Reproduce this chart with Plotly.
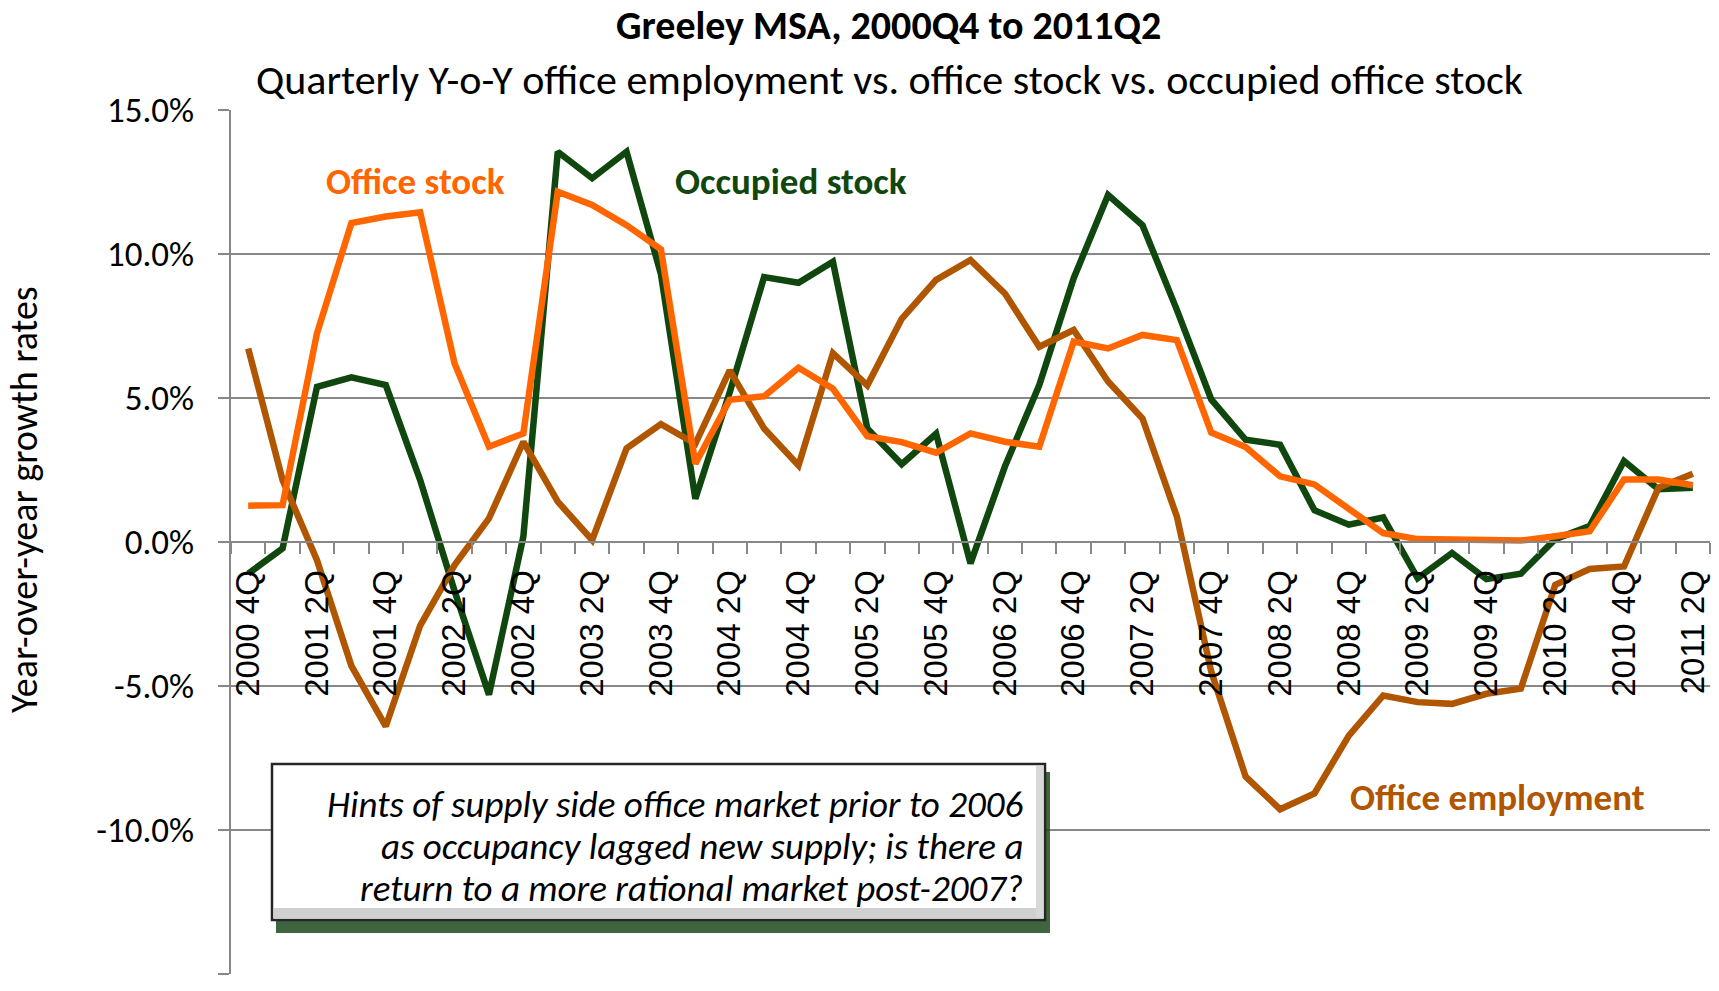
import plotly.graph_objects as go

# ---------------- data ----------------
quarters = ["2000Q4"] + [f"{y}Q{q}" for y in range(2001, 2011) for q in range(1, 5)] + ["2011Q1", "2011Q2"]
quarter_labels = [f"{q[:4]} {q[-1]}Q" for q in quarters]

office_stock = [1.26, 1.28, 7.25, 11.07, 11.3, 11.45, 6.2, 3.31, 3.77, 12.16,
                11.7, 11.0, 10.16, 2.72, 4.94, 5.06, 6.05, 5.32, 3.67, 3.47,
                3.1, 3.77, 3.48, 3.31, 6.96, 6.72, 7.19, 7.01, 3.8, 3.3,
                2.28, 2.0, 1.15, 0.31, 0.1, 0.1, 0.05, 0.05, 0.2, 0.37,
                2.17, 2.17, 1.97]

occupied_stock = [-1.1, -0.22, 5.39, 5.72, 5.45, 2.15, -1.7, -5.3, 0.19, 13.55,
                  12.63, 13.55, 9.3, 1.5, 5.2, 9.2, 9.0, 9.73, 3.94, 2.7,
                  3.76, -0.74, 2.62, 5.45, 9.16, 12.05, 11.0, 8.06, 4.95, 3.55,
                  3.38, 1.1, 0.6, 0.85, -1.26, -0.38, -1.29, -1.1, 0.1, 0.55,
                  2.81, 1.83, 1.88]

office_employment = [6.72, 2.15, -0.63, -4.3, -6.4, -2.9, -0.8, 0.82, 3.48, 1.4,
                     0.07, 3.25, 4.09, 3.41, 5.96, 3.94, 2.66, 6.56, 5.44, 7.75,
                     9.1, 9.79, 8.63, 6.78, 7.36, 5.57, 4.29, 0.88, -4.5, -8.15,
                     -9.28, -8.73, -6.72, -5.33, -5.56, -5.62, -5.27, -5.09, -1.49, -0.94,
                     -0.85, 1.88, 2.37]

y_ticks = [-15, -10, -5, 0, 5, 10, 15]
y_ticktext = [f"{v:.1f}%" for v in y_ticks]

title_text = "Greeley MSA, 2000Q4 to 2011Q2"
subtitle_text = "Quarterly Y-o-Y office employment vs. office stock vs. occupied office stock"
y_title = "Year-over-year growth rates"
note_lines = ["Hints of supply side office market prior to 2006",
              "as occupancy lagged new supply; is there a",
              "return to a more rational market post-2007?"]

# ---------------- style ----------------
ORANGE = "#FF6600"
GREEN = "#0F470F"
BROWN = "#B05500"
GRID = "#878787"
FONT = "Carlito, Lato, sans-serif"
W, H = 1719, 991
L, R, T, B = 231, 9, 110, 17
PW, PH = W - L - R, H - T - B


def px(xp):
    return (xp - L) / PW


def py(yp):
    return (H - B - yp) / PH


fig = go.Figure()
fig.add_trace(go.Scatter(x=quarters, y=occupied_stock, mode="lines", name="Occupied stock",
                         line=dict(color=GREEN, width=6.5)))
fig.add_trace(go.Scatter(x=quarters, y=office_employment, mode="lines", name="Office employment",
                         line=dict(color=BROWN, width=6.5)))
fig.add_trace(go.Scatter(x=quarters, y=office_stock, mode="lines", name="Office stock",
                         line=dict(color=ORANGE, width=6.5)))

ticktext = [lab if i % 2 == 0 else "" for i, lab in enumerate(quarter_labels)]

fig.update_layout(
    width=W, height=H,
    margin=dict(l=L, r=R, t=T, b=B),
    paper_bgcolor="white", plot_bgcolor="white",
    showlegend=False,
    xaxis=dict(
        type="category", anchor="free", position=0.5,
        range=[-0.5, len(quarters) - 0.5],
        tickmode="array", tickvals=quarters, ticktext=ticktext,
        tickson="boundaries", ticks="outside", ticklen=11, tickwidth=2, tickcolor=GRID,
        showline=True, linecolor=GRID, linewidth=2,
        showgrid=False, tickangle=-90,
        tickfont=dict(family="Liberation Sans, Arial", size=33, color="black"),
        ticklabelstandoff=14,
    ),
    yaxis=dict(
        range=[-15, 15], tickmode="array", tickvals=y_ticks, ticktext=y_ticktext,
        showgrid=True, gridcolor=GRID, gridwidth=2,
        showline=True, linecolor=GRID, linewidth=2,
        ticks="outside", ticklen=11, tickwidth=2, tickcolor=GRID,
        zeroline=False,
        tickfont=dict(family=FONT, size=35, color="black"),
        ticklabelstandoff=17,
    ),
)

# titles
fig.add_annotation(text=f"<b>{title_text}</b>", x=px(888), y=py(26), xref="paper", yref="paper",
                   showarrow=False, xanchor="center", yanchor="middle", borderpad=0,
                   font=dict(family=FONT, size=40, color="black"))
fig.add_annotation(text=subtitle_text, x=px(889), y=py(79), xref="paper", yref="paper",
                   showarrow=False, xanchor="center", yanchor="middle", borderpad=0,
                   font=dict(family=FONT, size=42, color="black"))
fig.add_annotation(text=y_title, x=px(24), y=py(499), xref="paper", yref="paper",
                   showarrow=False, xanchor="center", yanchor="middle", textangle=-90,
                   font=dict(family=FONT, size=38, color="black"))

# series labels
fig.add_annotation(text="<b>Office stock</b>", x=px(415), y=py(181), xref="paper", yref="paper",
                   showarrow=False, xanchor="center", yanchor="middle",
                   font=dict(family=FONT, size=37, color=ORANGE))
fig.add_annotation(text="<b>Occupied stock</b>", x=px(791), y=py(181), xref="paper", yref="paper",
                   showarrow=False, xanchor="center", yanchor="middle",
                   font=dict(family=FONT, size=37, color=GREEN))
fig.add_annotation(text="<b>Office employment</b>", x=px(1497), y=py(797), xref="paper", yref="paper",
                   showarrow=False, xanchor="center", yanchor="middle",
                   font=dict(family=FONT, size=37, color=BROWN))

# note box with shadow
fig.add_shape(type="rect", xref="paper", yref="paper",
              x0=px(276), x1=px(1050), y0=py(933), y1=py(772),
              fillcolor="#1D4A1D", line=dict(width=0), opacity=0.85, layer="above")
fig.add_shape(type="rect", xref="paper", yref="paper",
              x0=px(272), x1=px(1045), y0=py(920), y1=py(764),
              fillcolor="white", line=dict(color="#262626", width=2.5), layer="above")
fig.add_shape(type="rect", xref="paper", yref="paper",
              x0=px(274), x1=px(1043), y0=py(918), y1=py(908),
              fillcolor="#D0D0D0", line=dict(width=0), layer="above")
fig.add_shape(type="rect", xref="paper", yref="paper",
              x0=px(1036), x1=px(1043), y0=py(918), y1=py(766),
              fillcolor="#D8D8D8", line=dict(width=0), layer="above")
for line_text, yc in zip(note_lines, [804, 846, 888]):
    fig.add_annotation(text=f"<i>{line_text}</i>", x=px(1025), y=py(yc),
                       xref="paper", yref="paper", showarrow=False, xanchor="right", yanchor="middle",
                       align="right", font=dict(family=FONT, size=37, color="black"))

fig.write_html("out.html", config={"displayModeBar": False},
               post_script="document.body.style.margin='0';")
